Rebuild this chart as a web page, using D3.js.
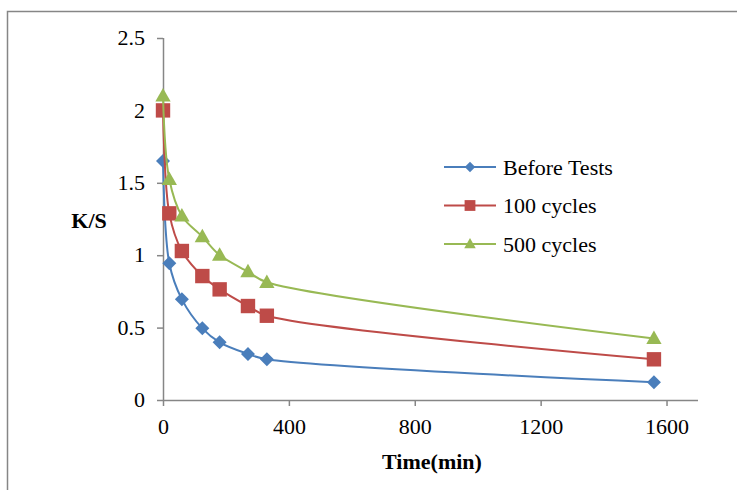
<!DOCTYPE html>
<html>
<head>
<meta charset="utf-8">
<script src="https://cdn.jsdelivr.net/npm/d3@7"></script>
<style>
  html, body { margin: 0; padding: 0; background: #fff; }
  svg { display: block; }
  text { font-family: "Liberation Serif", "Times New Roman", serif; fill: #000; }
</style>
</head>
<body>
<svg id="chart" width="737" height="490"></svg>
<script>
// Time (min) at which K/S was measured
const times = [0, 20, 60, 125, 180, 270, 330, 1560];
// K/S values per series
const beforeTests = [1.65, 0.944, 0.695, 0.495, 0.398, 0.318, 0.281, 0.122];
const cycles100 = [2.0, 1.289, 1.029, 0.856, 0.764, 0.649, 0.582, 0.281];
const cycles500 = [2.10, 1.524, 1.271, 1.128, 1.001, 0.886, 0.813, 0.425];

const seriesNames = ["Before Tests", "100 cycles", "500 cycles"];
const seriesColors = ["#4A7EBB", "#BE4B48", "#98B954"];
const seriesValues = [beforeTests, cycles100, cycles500];

const xTicks = [0, 400, 800, 1200, 1600];
const yTicks = [0, 0.5, 1, 1.5, 2, 2.5];

const svg = d3.select("#chart");
const axisColor = "#868686";
const fontSize = "22px";

// outer chart frame
svg.append("rect")
  .attr("x", 7.5).attr("y", 11.5)
  .attr("width", 760).attr("height", 500)
  .attr("fill", "none").attr("stroke", axisColor).attr("stroke-width", 1.5);

const x = d3.scaleLinear().domain([0, 1700]).range([163, 698]);
const y = d3.scaleLinear().domain([0, 2.5]).range([400, 38]);

// y axis
const yAxis = svg.append("g")
  .attr("transform", `translate(${x(0)},0)`)
  .call(d3.axisLeft(y).tickValues(yTicks).tickSize(6).tickPadding(12)
    .tickFormat(d => String(d)));
// x axis
const xAxis = svg.append("g")
  .attr("transform", `translate(0,${y(0)})`)
  .call(d3.axisBottom(x).tickValues(xTicks).tickSize(6).tickPadding(12)
    .tickFormat(d3.format("d")));

[yAxis, xAxis].forEach(g => {
  g.select(".domain").attr("stroke", axisColor).attr("stroke-width", 1.5);
  g.selectAll(".tick line").attr("stroke", axisColor).attr("stroke-width", 1.5);
  g.selectAll(".tick text")
    .style("font-family", "'Liberation Serif', 'Times New Roman', serif")
    .style("font-size", fontSize).attr("fill", "#000");
});
xAxis.select(".domain").attr("d", `M${x(0)},0.5H${x(1700)}`);
yAxis.select(".domain").attr("d", `M0.5,${y(2.5)}V${y(0)}`);
yAxis.selectAll(".tick text").attr("dy", "0.3em");

// axis titles
svg.append("text")
  .attr("x", 89).attr("y", 228)
  .attr("text-anchor", "middle")
  .style("font-size", fontSize).style("font-weight", "bold")
  .text("K/S");
svg.append("text")
  .attr("x", 432).attr("y", 469)
  .attr("text-anchor", "middle")
  .style("font-size", fontSize).style("font-weight", "bold")
  .text("Time(min)");

// marker shapes: diamond = square turned 45 degrees
const markerPath = [
  s => `M0,${-s}L${s},0L0,${s}L${-s},0Z`,
  s => `M${-s},${-s}H${s}V${s}H${-s}Z`,
  s => `M0,${-s * 1.05}L${s * 1.02},${s * 0.75}H${-s * 1.02}Z`
];
const markerHalf = [7, 7.2, 7.5];

// series lines + markers
const line = d3.line()
  .x(d => x(d[0])).y(d => y(d[1]))
  .curve(d3.curveCatmullRom.alpha(0.5));

seriesValues.forEach((vals, i) => {
  const pts = times.map((t, j) => [t, vals[j]]);
  svg.append("path")
    .datum(pts)
    .attr("d", line)
    .attr("fill", "none")
    .attr("stroke", seriesColors[i])
    .attr("stroke-width", 2);
  svg.append("g").selectAll("path")
    .data(pts)
    .join("path")
    .attr("transform", d => `translate(${x(d[0])},${y(d[1])})`)
    .attr("d", markerPath[i](markerHalf[i]))
    .attr("fill", seriesColors[i]);
});

// legend
const legend = svg.append("g");
seriesNames.forEach((name, i) => {
  const ly = 167 + i * 38.5;
  legend.append("line")
    .attr("x1", 444).attr("x2", 496)
    .attr("y1", ly).attr("y2", ly)
    .attr("stroke", seriesColors[i]).attr("stroke-width", 2);
  legend.append("path")
    .attr("transform", `translate(470,${ly})`)
    .attr("d", markerPath[i](markerHalf[i] * 0.75))
    .attr("fill", seriesColors[i]);
  legend.append("text")
    .attr("x", 503).attr("y", ly + 7.5)
    .style("font-size", fontSize)
    .text(name);
});
</script>
</body>
</html>
